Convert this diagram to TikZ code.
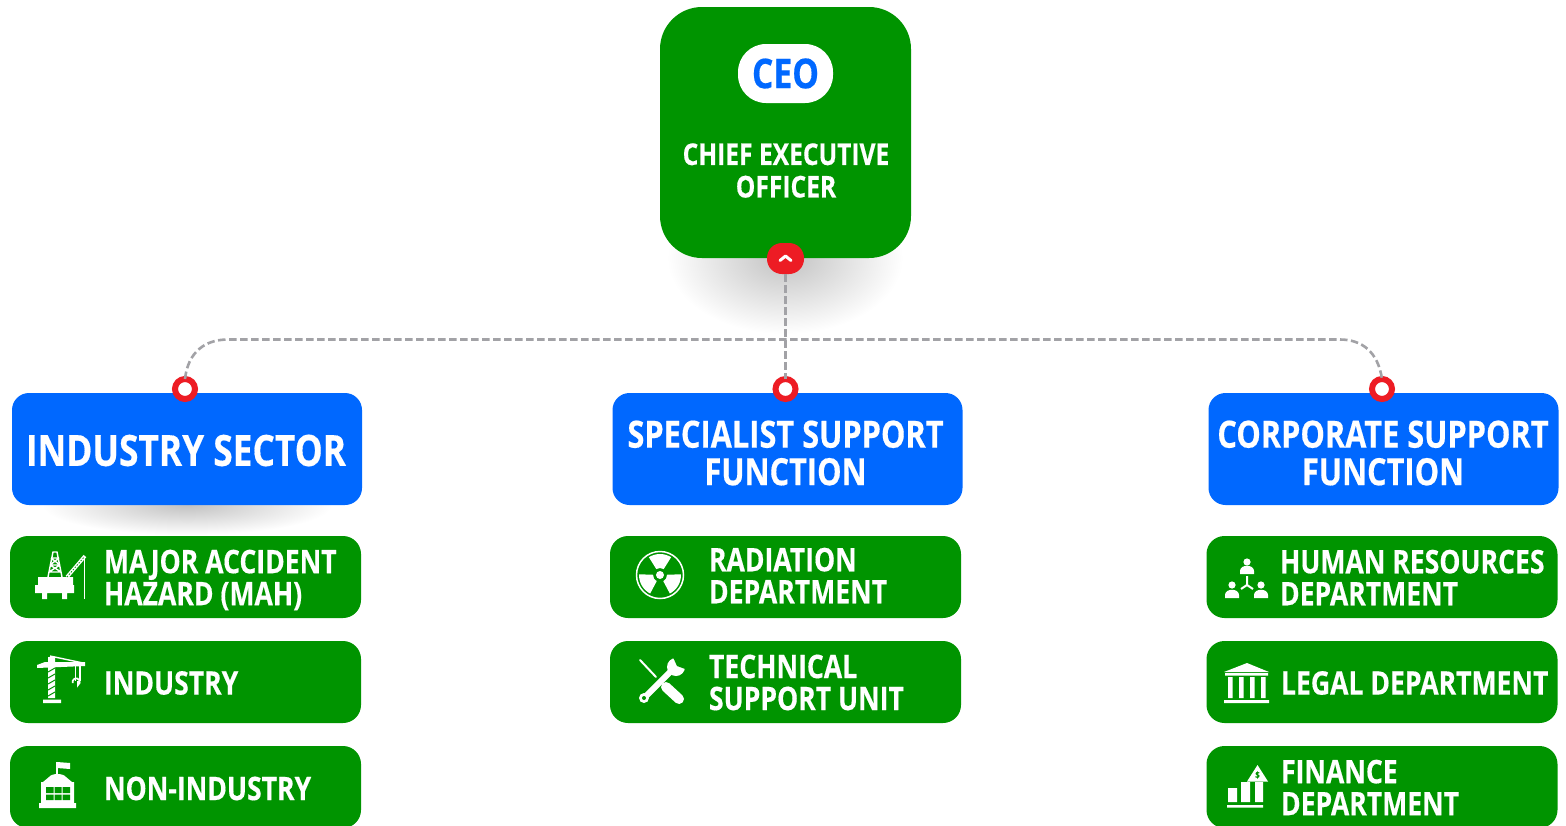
\documentclass[tikz,border=0pt]{standalone}
\usepackage{fontspec}
\setmainfont{Open Sans}[FakeStretch=0.82,BoldFeatures={FakeBold=0.4}]
\definecolor{gr}{HTML}{009400}
\definecolor{bl}{HTML}{0068FF}
\definecolor{rd}{HTML}{ED1C24}
\definecolor{dsh}{HTML}{A2A2A6}
\newcommand\fsz[2]{\bfseries\fontsize{#1}{#2}\selectfont}
\tikzset{
  ceobox/.style={fill=gr,rounded corners=42,minimum width=251,minimum height=251,inner sep=0,outer sep=0},
  bluebox/.style={fill=bl,rounded corners=17,minimum width=350,minimum height=112,inner sep=0,outer sep=0},
  bluelabel/.style={inner sep=0,outer sep=0,text=white,align=center},
  deptbox/.style={fill=gr,rounded corners=18,minimum width=351,minimum height=82,inner sep=0,outer sep=0},
  deptlabel/.style={anchor=west,inner sep=0,outer sep=0,text=white,align=left,font=\fsz{32.4}{32}},
  port/.style={circle,draw=rd,fill=white,line width=6,minimum size=20,inner sep=0,outer sep=0},
  link/.style={draw=dsh,line width=2.6,dash pattern=on 7.5pt off 3.5pt},
  ic/.style={fill=white,draw=none},
  icl/.style={draw=white,line width=1.4},
}
\begin{document}
\begin{tikzpicture}[x=1pt,y=-1pt]
\useasboundingbox (0,0) rectangle (1566,825);
\clip (0,0) rectangle (1566,825);
\fill[white] (0,0) rectangle (1566,825);
% shadows
\shade[inner color=black!24,outer color=white] (785,258) ellipse [x radius=118,y radius=76];
\shade[inner color=black!24,outer color=white] (187,505) ellipse [x radius=145,y radius=30];
% boxes
\node[ceobox] (ceo) at (785.5,132.5) {};
\node[fill=white,rounded corners=28,minimum width=95,minimum height=59,inner sep=0,text=bl,font=\fsz{41}{41}] (ceotag) at (785.5,73.5) {CEO};
\node[inner sep=0,text=white,align=center,font=\fsz{30}{32.5}] (ceotitle) at (786,170.5) {CHIEF EXECUTIVE\\OFFICER};
\node[bluebox] (ind) at (187,449) {};
\node[bluebox] (spec) at (787.5,449) {};
\node[bluebox] (corp) at (1383.5,449) {};
\node[bluelabel,font=\fsz{43}{43}] (tind) at (186,450.5) {INDUSTRY SECTOR};
\node[bluelabel,font=\fsz{37.5}{37.5}] (tspec) at (785.5,453) {SPECIALIST SUPPORT\\FUNCTION};
\node[bluelabel,font=\fsz{37.5}{37.5}] (tcorp) at (1383,453) {CORPORATE SUPPORT\\FUNCTION};
% connectors
\coordinate (hl) at (228,339.5);
\coordinate (hr) at (1340,339.5);
\node[port] (pl) at (185,389) {};
\node[port] (pm) at (785.5,389) {};
\node[port] (pr) at (1382,389) {};
\node[fill=rd,rounded corners=15,minimum width=37,minimum height=31,inner sep=0,outer sep=0] (btn) at (785.5,258.5) {};
\draw[white,line width=3,line cap=round,line join=round] ([shift={(-5.5,2)}]btn.center) -- ([shift={(0,-2.5)}]btn.center) -- ([shift={(5.5,2)}]btn.center);
\draw[link] (btn.south) -- (pm.north);
\draw[link] (pl.north) .. controls (188,352) and (205,339.5) .. (hl) -- (hr) .. controls (1362,339.5) and (1378,352) .. (pr.north);
% departments
\node[deptbox] (mah) at (185.5,577) {};
\node[deptbox] (indu) at (185.5,682) {};
\node[deptbox] (non) at (185.5,787) {};
\node[deptbox] (rad) at (785.5,577) {};
\node[deptbox] (tech) at (785.5,682) {};
\node[deptbox] (hrd) at (1382,577) {};
\node[deptbox] (leg) at (1382,682) {};
\node[deptbox] (fin) at (1382,787) {};
\node[deptlabel] (tmah) at (104,580) {MAJOR ACCIDENT\\HAZARD (MAH)};
\node[deptlabel] (tindu) at (104,683) {INDUSTRY};
\node[deptlabel] (tnon) at (104,788.5) {NON-INDUSTRY};
\node[deptlabel] (trad) at (709,575.5) {RADIATION\\DEPARTMENT};
\node[deptlabel] (ttech) at (709,682.5) {TECHNICAL\\SUPPORT UNIT};
\node[deptlabel] (thr) at (1280,577.5) {HUMAN RESOURCES\\DEPARTMENT};
\node[deptlabel] (tleg) at (1281,683) {LEGAL DEPARTMENT};
\node[deptlabel] (tfin) at (1281,787.5) {FINANCE\\DEPARTMENT};
% rig icon
\fill[ic] (38,577) rectangle (73,585) (35,585) rectangle (74,593) (42,593) rectangle (47,599) (62,593) rectangle (67,599);
\draw[icl] (48,577) -- (53,552) -- (57,552) -- (62,577) (49,572) -- (61,572) (50,565) -- (60,565) (51,558) -- (59,558) (49,572) -- (60,565) (61,572) -- (50,565) (50,565) -- (59,558) (60,565) -- (51,558);
\draw[white,line width=3.5] (67,577) -- (85,556);
\draw[gr,line width=.8,dash pattern=on 1.5pt off 1.5pt] (67,577) -- (85,556);
\draw[icl,line width=1] (84,556) -- (84,599);
% crane icon
\fill[ic] (48,657) -- (55,657) -- (55,698) -- (48,698) -- cycle (43,699.5) rectangle (61,703) (37,665) -- (45,662) -- (85,662) -- (85,666) -- (37,668) -- cycle;
\draw[icl] (50,656) -- (83,663);
\draw[gr,line width=1] (48,672) -- (55,668) (48,678) -- (55,674) (48,684) -- (55,680) (48,690) -- (55,686) (48,696) -- (55,692);
\draw[icl,line width=1.5] (75.5,666) -- (75.5,681) (80,666) -- (80,681);
\draw[icl,line width=1.7] (78,681) -- (78,685) arc[start angle=60,end angle=-200,radius=3.6];
% building icon
\draw[icl,line width=1.2] (57,762) -- (57,774);
\fill[ic] (57,762) -- (70,763) -- (70,769) -- (57,768) -- cycle (43,782) -- (72,782) -- (66,777) .. controls (63,773) and (52,773) .. (49,777) -- cycle (41,782) rectangle (74,804) (39,803) rectangle (76,808);
\fill[gr] (46,787) rectangle (53.5,793) (54.5,787) rectangle (61.5,793) (62.5,787) rectangle (70,793) (46,794.5) rectangle (53.5,800) (54.5,794.5) rectangle (61.5,800) (62.5,794.5) rectangle (70,800);
% radiation icon
\draw[white,line width=1.5] (660,575) circle[radius=23.5];
\fill[ic] (660,575) circle[radius=4];
\foreach \a in {30,150,270}{
  \fill[ic] (660,575) ++(\a-32:7) arc[start angle=\a-32,end angle=\a+32,radius=7] -- ++(\a+32:14) arc[start angle=\a+32,end angle=\a-32,radius=21] -- cycle;
}
% tools icon
\draw[white,line width=2,line cap=round] (640,660) -- (656,677);
\draw[white,line width=10,line cap=round] (666,687) -- (679,699);
\draw[white,line width=6] (644,698) -- (672,670);
\fill[ic] (644,698) circle[radius=5] (676,667) circle[radius=9];
\fill[gr] (644,698) circle[radius=2];
\fill[gr] (677,666) -- (672,655) -- (690,655) -- (688,670) -- cycle;
% people icon
\fill[ic] (1247,562) circle[radius=3.6] (1232,585) circle[radius=3.6] (1261,585) circle[radius=3.6];
\fill[ic] (1240,574) -- (1240,571) .. controls (1240,564) and (1254,564) .. (1254,571) -- (1254,574) -- cycle
 (1225,598) -- (1225,595) .. controls (1225,588) and (1239,588) .. (1239,595) -- (1239,598) -- cycle
 (1254,598) -- (1254,595) .. controls (1254,588) and (1268,588) .. (1268,595) -- (1268,598) -- cycle;
\draw[white,line width=2] (1247,576) -- (1247,585) (1247,585) -- (1241,589) (1247,585) -- (1253,589);
% bank icon
\fill[ic] (1224,672) -- (1247,663) -- (1269,672) -- cycle (1225,673) rectangle (1268,675.5) (1224,700) rectangle (1269,703);
\fill[ic] (1228,677) rectangle (1232.5,698) (1239,677) rectangle (1243.5,698) (1250,677) rectangle (1254.5,698) (1261,677) rectangle (1265.5,698);
% finance icon
\fill[ic] (1228,788) rectangle (1237,802) (1241,782) rectangle (1250,802) (1255,782) rectangle (1263,802) (1247,781.5) -- (1257.5,765) -- (1268,781.5) -- cycle (1227,805) rectangle (1263,807.5);
\node[inner sep=0,text=gr,font=\fsz{9}{9}] (dollar) at (1257.5,775) {\$};
\end{tikzpicture}
\end{document}
